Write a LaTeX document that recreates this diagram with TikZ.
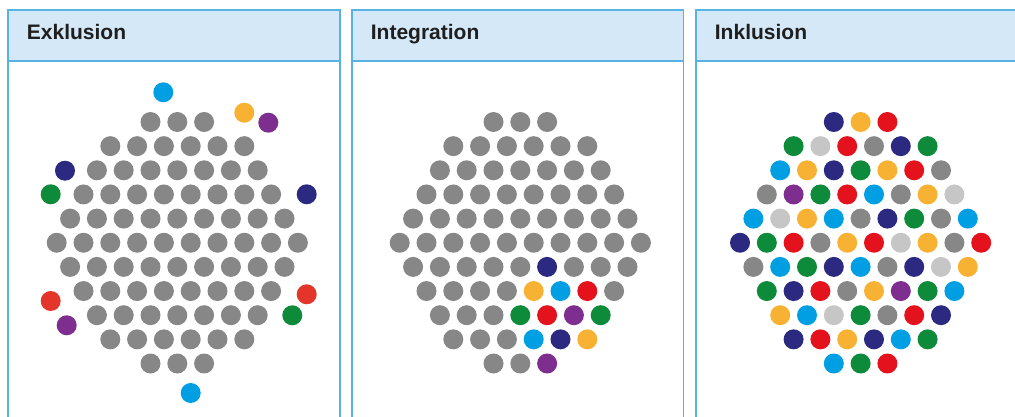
\documentclass[tikz,border=0pt]{standalone}
\usepackage{fontspec}
\setmainfont{Liberation Sans}
\definecolor{dg}{HTML}{878787}
\definecolor{lg}{HTML}{C6C6C6}
\definecolor{nv}{HTML}{2B2A80}
\definecolor{cy}{HTML}{009FE3}
\definecolor{og}{HTML}{F7B234}
\definecolor{pu}{HTML}{7D2E8E}
\definecolor{gn}{HTML}{0E8A3B}
\definecolor{rd}{HTML}{E3121C}
\definecolor{rl}{HTML}{E4352B}
\definecolor{hdfill}{HTML}{D4E8F7}
\definecolor{bord}{HTML}{58B3E4}
\definecolor{ttl}{HTML}{1F1F1F}
\newcommand\dotrow[4]{%
  \foreach \c [count=\i] in {#4} {\fill[fill=\c] ({#1+(\i-(#3+1)/2)*26.8},#2) circle[radius=10];}}
\newcommand\panelbox[3]{% left, right, title
  \fill[hdfill] (#1,10) rectangle (#2,61);
  \draw[panelline] (#1,430) -- (#1,10) -- (#2,10) -- (#2,430);
  \draw[panelline] (#1,61) -- (#2,61);
  \node[title] at ({#1+18.7},40) {#3};}
\begin{document}
\begin{tikzpicture}[x=1pt,y=-1pt,
  panelline/.style={draw=bord,line width=1.8pt},
  title/.style={anchor=base west,inner sep=0pt,font=\fontsize{21}{24}\selectfont\bfseries,text=ttl}]
\useasboundingbox (0,0) rectangle (1015,417);
\begin{scope}
\clip (0,0) rectangle (1015,417);
\panelbox{8}{340}{Exklusion}
\panelbox{352}{683.5}{Integration}
\panelbox{696}{1030}{Inklusion}
\end{scope}
% ---------- Exklusion ----------
\def\cx{177.3}
\dotrow{\cx}{122}{3}{dg,dg,dg}
\dotrow{\cx}{146.15}{6}{dg,dg,dg,dg,dg,dg}
\dotrow{\cx}{170.3}{7}{dg,dg,dg,dg,dg,dg,dg}
\dotrow{\cx}{194.45}{8}{dg,dg,dg,dg,dg,dg,dg,dg}
\dotrow{\cx}{218.6}{9}{dg,dg,dg,dg,dg,dg,dg,dg,dg}
\dotrow{\cx}{242.75}{10}{dg,dg,dg,dg,dg,dg,dg,dg,dg,dg}
\dotrow{\cx}{266.9}{9}{dg,dg,dg,dg,dg,dg,dg,dg,dg}
\dotrow{\cx}{291.05}{8}{dg,dg,dg,dg,dg,dg,dg,dg}
\dotrow{\cx}{315.2}{7}{dg,dg,dg,dg,dg,dg,dg}
\dotrow{\cx}{339.35}{6}{dg,dg,dg,dg,dg,dg}
\dotrow{\cx}{363.5}{3}{dg,dg,dg}
\fill[cy] (163.3,92.3) circle[radius=10];
\fill[og] (244.3,112.7) circle[radius=10];
\fill[pu] (268.3,122.7) circle[radius=10];
\fill[nv] (65,170.7) circle[radius=10];
\fill[gn] (50.7,194.3) circle[radius=10];
\fill[nv] (306.7,194.3) circle[radius=10];
\fill[rl] (50.7,301) circle[radius=10];
\fill[rl] (306.7,294.3) circle[radius=10];
\fill[pu] (66.7,325.3) circle[radius=10];
\fill[gn] (292.3,315.3) circle[radius=10];
\fill[cy] (190.7,393) circle[radius=10];
% ---------- Integration ----------
\def\cx{520.3}
\dotrow{\cx}{122}{3}{dg,dg,dg}
\dotrow{\cx}{146.15}{6}{dg,dg,dg,dg,dg,dg}
\dotrow{\cx}{170.3}{7}{dg,dg,dg,dg,dg,dg,dg}
\dotrow{\cx}{194.45}{8}{dg,dg,dg,dg,dg,dg,dg,dg}
\dotrow{\cx}{218.6}{9}{dg,dg,dg,dg,dg,dg,dg,dg,dg}
\dotrow{\cx}{242.75}{10}{dg,dg,dg,dg,dg,dg,dg,dg,dg,dg}
\dotrow{\cx}{266.9}{9}{dg,dg,dg,dg,dg,nv,dg,dg,dg}
\dotrow{\cx}{291.05}{8}{dg,dg,dg,dg,og,cy,rd,dg}
\dotrow{\cx}{315.2}{7}{dg,dg,dg,gn,rd,pu,gn}
\dotrow{\cx}{339.35}{6}{dg,dg,dg,cy,nv,og}
\dotrow{\cx}{363.5}{3}{dg,dg,pu}
% ---------- Inklusion ----------
\def\cx{860.6}
\dotrow{\cx}{122}{3}{nv,og,rd}
\dotrow{\cx}{146.15}{6}{gn,lg,rd,dg,nv,gn}
\dotrow{\cx}{170.3}{7}{cy,og,nv,gn,og,rd,dg}
\dotrow{\cx}{194.45}{8}{dg,pu,gn,rd,cy,dg,og,lg}
\dotrow{\cx}{218.6}{9}{cy,lg,og,cy,dg,nv,gn,dg,cy}
\dotrow{\cx}{242.75}{10}{nv,gn,rd,dg,og,rd,lg,og,dg,rd}
\dotrow{\cx}{266.9}{9}{dg,cy,gn,nv,cy,dg,nv,lg,og}
\dotrow{\cx}{291.05}{8}{gn,nv,rd,dg,og,pu,gn,cy}
\dotrow{\cx}{315.2}{7}{og,cy,lg,gn,dg,rd,nv}
\dotrow{\cx}{339.35}{6}{nv,rd,og,nv,cy,gn}
\dotrow{\cx}{363.5}{3}{cy,gn,rd}
\end{tikzpicture}
\end{document}
